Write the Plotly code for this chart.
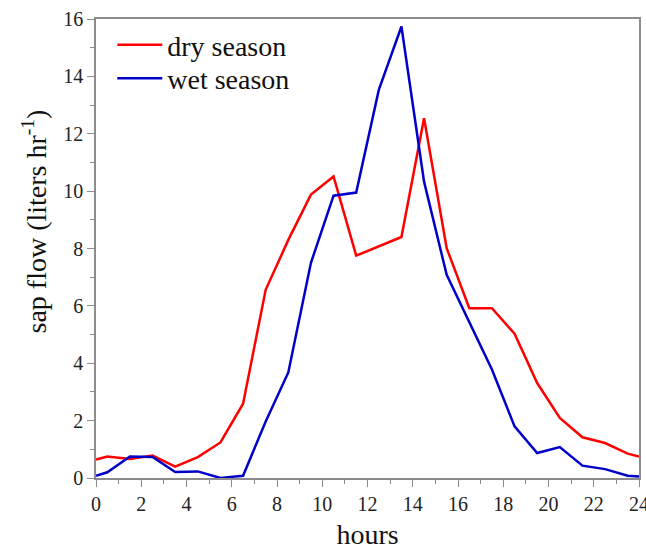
import plotly.graph_objects as go

hours = [0, 0.5, 1.5, 2.5, 3.5, 4.5, 5.5, 6.5, 7.5, 8.5, 9.5, 10.5, 11.5,
         12.5, 13.5, 14.5, 15.5, 16.5, 17.5, 18.5, 19.5, 20.5, 21.5, 22.5, 23.5, 24]
dry = [0.64, 0.75, 0.66, 0.78, 0.40, 0.73, 1.24, 2.59, 6.56, 8.3, 9.88, 10.51, 7.75,
       8.08, 8.4, 12.54, 8.01, 5.92, 5.92, 5.03, 3.31, 2.09, 1.42, 1.22, 0.85, 0.75]
wet = [0.08, 0.2, 0.75, 0.73, 0.21, 0.23, 0.0, 0.08, 1.97, 3.68, 7.5, 9.84, 9.95,
       13.53, 15.74, 10.33, 7.08, 5.45, 3.78, 1.8, 0.87, 1.08, 0.43, 0.31, 0.08, 0.05]
x_ticks = list(range(0, 25, 2))
y_ticks = list(range(0, 17, 2))

fig = go.Figure()
fig.add_trace(go.Scatter(x=hours, y=dry, mode="lines", name="dry season",
                         line=dict(color="#ff0000", width=2.5), legend="legend"))
fig.add_trace(go.Scatter(x=hours, y=wet, mode="lines", name="wet season",
                         line=dict(color="#0000c8", width=2.5), legend="legend2"))

font = "Liberation Serif"
axis_common = dict(showline=True, linecolor="#8c8c8c", linewidth=1.5, mirror=True,
                   showgrid=False, zeroline=False, ticks="outside", ticklen=7,
                   tickcolor="#8c8c8c", tickwidth=1.2, automargin=False,
                   ticklabeloverflow="allow",
                   tickfont=dict(family=font, size=20, color="#222"))
leg_common = dict(x=0.03, xanchor="left", yanchor="middle",
                  font=dict(family=font, size=28, color="#111"),
                  bgcolor="rgba(0,0,0,0)", itemwidth=45)
fig.update_layout(
    width=646, height=550,
    margin=dict(l=96, r=7, t=19, b=72),
    paper_bgcolor="white", plot_bgcolor="white",
    font=dict(family=font),
    showlegend=True,
    legend=dict(y=0.943, **leg_common),
    legend2=dict(y=0.87, **leg_common),
    xaxis=dict(range=[0, 24], tickmode="array", tickvals=x_ticks,
               minor=dict(dtick=1, ticks="outside", ticklen=4, tickcolor="#8c8c8c"),
               title=dict(text="hours", font=dict(family=font, size=28, color="#111"), standoff=19),
               **axis_common),
    yaxis=dict(range=[0, 16], tickmode="array", tickvals=y_ticks,
               minor=dict(dtick=1, ticks="outside", ticklen=4, tickcolor="#8c8c8c"),
               **axis_common),
    annotations=[dict(text="sap flow (liters hr<sup>-1</sup>)", textangle=-90,
                      xref="paper", yref="paper", x=-0.113, y=0.558,
                      xanchor="center", yanchor="middle", showarrow=False,
                      font=dict(family=font, size=28, color="#111"))],
)
fig.write_html("out.html", config={"displayModeBar": False},
               post_script="document.body.style.margin='0';")
